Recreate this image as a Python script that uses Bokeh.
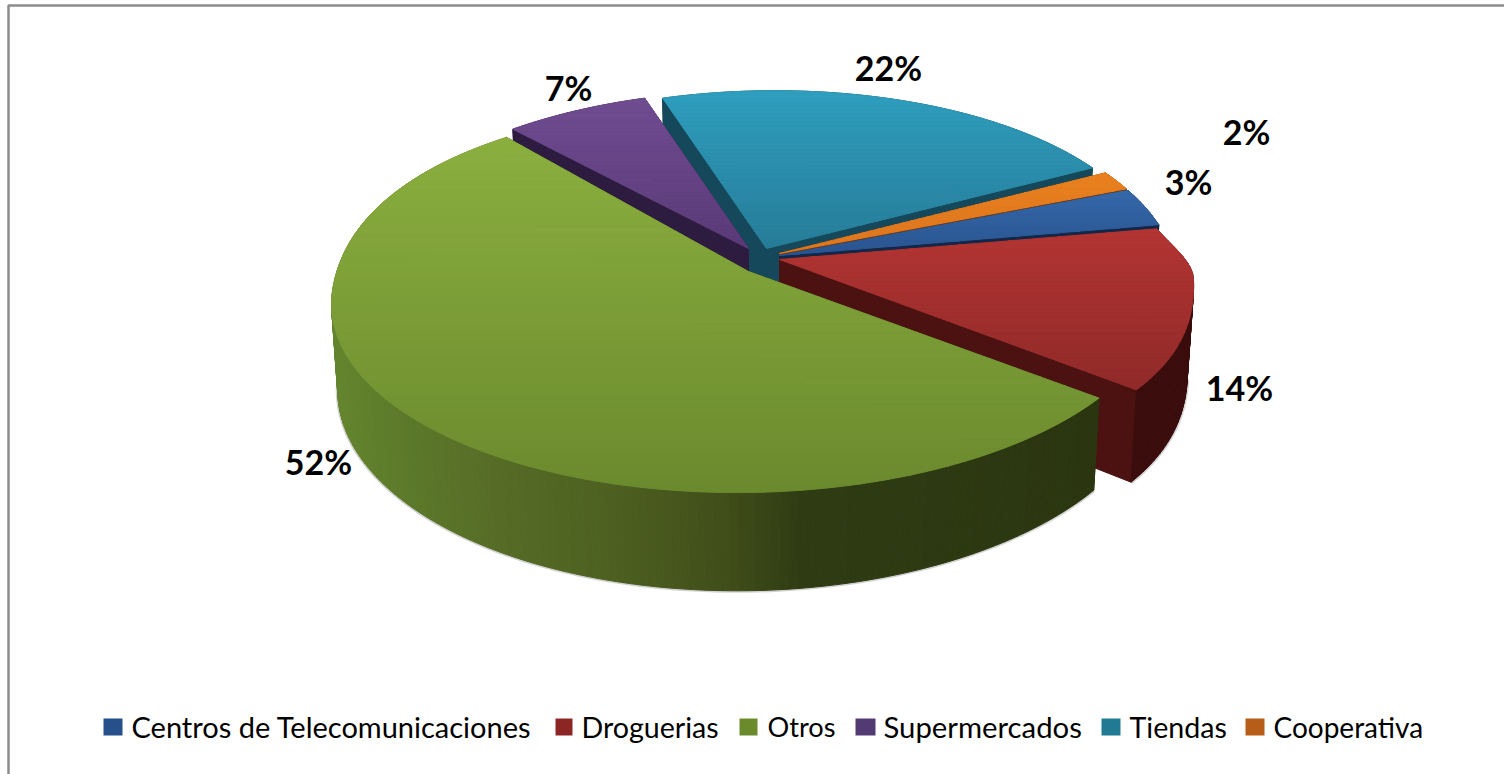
import math
from bokeh.plotting import figure
from bokeh.embed import file_html
from bokeh.resources import INLINE
from bokeh.core.properties import value

# ---- data ----
categories = ["Centros de Telecomunicaciones", "Droguerias", "Otros", "Supermercados", "Tiendas", "Cooperativa"]
shares = [3.4, 13.05, 52.8, 6.7, 22.3, 1.75]
labels = ["3%", "14%", "52%", "7%", "22%", "2%"]

# ---- styles and layout ----
legend_colors = ["#26508A", "#8C2624", "#6A8A2C", "#523A73", "#217A94", "#B65E17"]
top_hi = ["#3669AB", "#B33533", "#8BAF3F", "#704C91", "#2F9EBE", "#E8801F"]
top_lo = ["#2B5590", "#8F2A28", "#6B8A2E", "#5A3A78", "#267C98", "#DD7720"]
radial = ["#12284A", "#4C1211", "#2B3510", "#2D1C3F", "#15485A", "#7A3C0C"]
wall_stops = [
    [(0, "#12284A"), (1, "#12284A")],
    [(0, "#3A0D0C"), (1, "#3A0D0C")],
    [(335, "#64842E"), (400, "#5C7A2A"), (500, "#566B26"), (620, "#4C5F20"), (735, "#3F4C19"),
     (800, "#2F3C13"), (1100, "#2B3610")],
    [(0, "#2D1C3F"), (1, "#2D1C3F")],
    [(0, "#15485A"), (1, "#15485A")],
    [(0, "#7A3C0C"), (1, "#7A3C0C")],
]
apex = [(779, 255), (779, 259), (748, 271), (748, 248), (766, 248), (779, 253)]
back_shrink = [0.045, 0.05, -0.04, 0.05, 0.05, 0.05]
ramp_width = [0.3, 0.3, 0.85, 0.3, 0.3, 0.3]
front_grow = [0, 0.02, 0, 0, 0, 0]
angle_pad = [(0, 0), (0, 1.0), (0.7, 2.5), (0, 0), (0, 0), (0, 0)]
draw_order = [4, 3, 5, 0, 1, 2]
START = 67.7
R, S, K, SH, D = 411.0, 189.0, 0.145, 10.0, 84.0
label_pos = [(1188, 181), (1239, 387), (318, 461), (568, 87), (888, 67), (1246, 131)]
swatch_x = [(103, 122), (555, 572), (739, 757), (855, 875), (1101, 1120), (1245, 1264)]
text_x = [131, 581, 767, 883, 1129, 1273]
text_size = ["29px", "28.6px", "27.2px", "29.3px", "28.6px", "28px"]


def hex2rgb(h):
    return tuple(int(h[i:i + 2], 16) for i in (1, 3, 5))


def mix(a, b, t):
    t = max(0.0, min(1.0, t))
    ca, cb = hex2rgb(a), hex2rgb(b)
    return "#%02x%02x%02x" % tuple(round(ca[i] + (cb[i] - ca[i]) * t) for i in range(3))


def stop_color(stops, x):
    if x <= stops[0][0]:
        return stops[0][1]
    for (x0, c0), (x1, c1) in zip(stops, stops[1:]):
        if x <= x1:
            return mix(c0, c1, (x - x0) / max(x1 - x0, 1e-6))
    return stops[-1][1]


def smooth(u):
    u = max(0.0, min(1.0, u))
    return u * u * (3 - 2 * u)


def proj(i, deg, z=0.0):
    ax, ay = apex[i]
    t = math.radians(deg)
    c = math.cos(t)
    f = 1 - back_shrink[i] * smooth((c + 0.1) / ramp_width[i]) + front_grow[i] * smooth((-c - 0.1) / 0.5)
    x, y = f * math.sin(t), f * c
    w = 1 + K * y
    sx = (R * x + SH * y) / w
    sy = -S * y / w + z * D / w
    return ax + sx * (1 - 0.015 * z), ay + sy


def clip(poly, lo, hi):
    def half(pts, inside, ylim):
        out = []
        for k, p in enumerate(pts):
            q = pts[(k + 1) % len(pts)]
            ip, iq = inside(p[1]), inside(q[1])
            if ip:
                out.append(p)
            if ip != iq:
                u = (ylim - p[1]) / (q[1] - p[1])
                out.append((p[0] + u * (q[0] - p[0]), ylim))
        return out
    pts = half(poly, lambda y: y >= lo, lo)
    if pts:
        pts = half(pts, lambda y: y <= hi, hi)
    return pts


total = sum(shares)
spans, a = [], START
for i, s in enumerate(shares):
    b = a + s / total * 360
    spans.append((a + angle_pad[i][0], b + angle_pad[i][1]))
    a = b

xs, ys, cols = [], [], []


def add(poly, c):
    xs.append([q[0] for q in poly])
    ys.append([q[1] for q in poly])
    cols.append(c)


for i in draw_order:
    a, b = spans[i]
    ap0 = (apex[i][0], apex[i][1])
    ap1 = (apex[i][0], apex[i][1] + D)
    add([ap0, proj(i, a), proj(i, a, 1), ap1], radial[i])
    add([ap0, proj(i, b), proj(i, b, 1), ap1], radial[i])
    n = max(2, int(b - a))
    for k in range(n):
        t0 = a + (b - a) * k / n
        t1 = a + (b - a) * (k + 1) / n
        mid = proj(i, (t0 + t1) / 2)
        add([proj(i, t0), proj(i, t1), proj(i, t1, 1), proj(i, t0, 1)],
            stop_color(wall_stops[i], mid[0]))
    m = max(6, int(b - a) * 2)
    top = [ap0] + [proj(i, a + (b - a) * k / m) for k in range(m + 1)]
    y0, y1 = min(q[1] for q in top), max(q[1] for q in top)
    bands = 40
    for k in range(bands):
        lo = y0 + (y1 - y0) * k / bands
        hi = y0 + (y1 - y0) * (k + 1) / bands
        part = clip(top, lo, hi)
        if len(part) >= 3:
            add(part, mix(top_hi[i], top_lo[i], (k + 0.5) / bands))

p = figure(width=1504, height=774, x_range=(0, 1504), y_range=(774, 0),
           toolbar_location=None, output_backend="svg", min_border=0)
p.axis.visible = False
p.grid.visible = False
p.outline_line_color = None
p.background_fill_color = "white"

# soft rim of the pie's shadow below the front walls
for i, lo, hi in [(2, spans[2][0], 285), (1, 100, spans[1][1])]:
    arc = [proj(i, lo + (hi - lo) * k / 120, 1) for k in range(121)]
    p.line([q[0] for q in arc], [q[1] for q in arc], line_color="#B4B4B4", line_width=4, line_alpha=0.6)

p.patches(xs, ys, fill_color=cols, line_color=cols, line_width=1)

# frame
p.line([8, 8, 1504], [774, 5, 5], line_color="#8C8C8C", line_width=2.5)

# value labels
p.text([q[0] for q in label_pos], [q[1] for q in label_pos], text=labels,
       text_font=value("Lato"), text_font_style="bold", text_font_size="34px",
       text_color="black", text_align="center", text_baseline="middle")

# legend
p.quad(left=[q[0] for q in swatch_x], right=[q[1] for q in swatch_x],
       top=[718] * 6, bottom=[735] * 6, fill_color=legend_colors, line_color=None)
p.text(text_x, [726] * 6, text=categories, text_font=value("Lato"), text_font_size=text_size,
       text_color="black", text_align="left", text_baseline="middle")

open("out.html", "w").write(file_html(p, INLINE))
